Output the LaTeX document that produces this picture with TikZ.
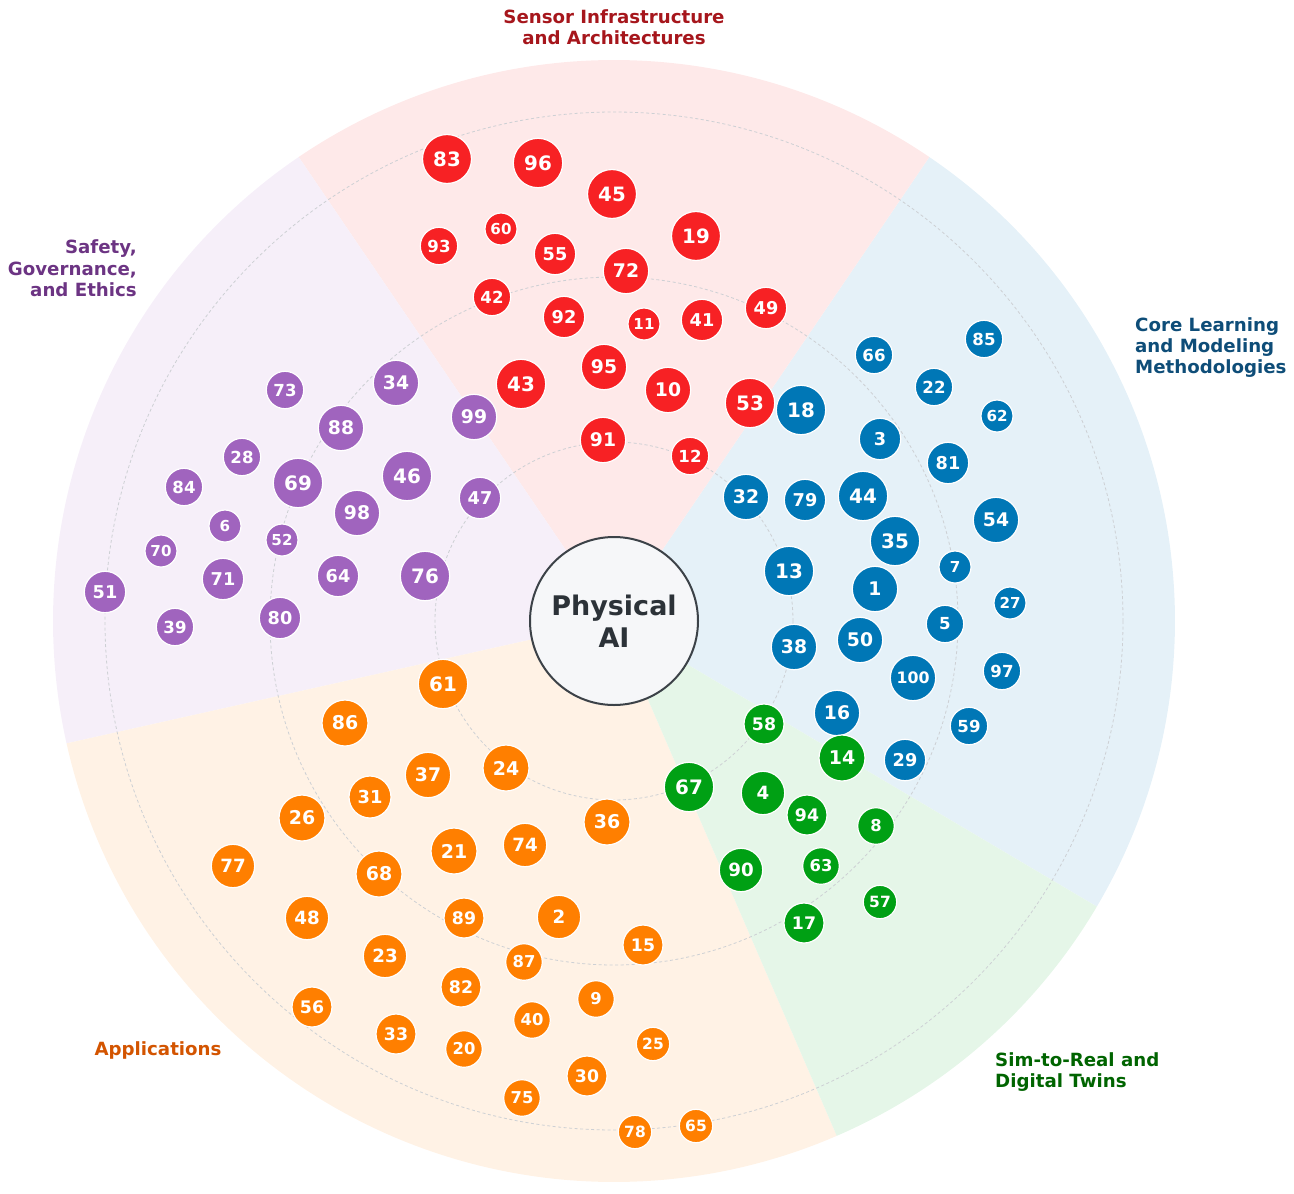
\documentclass[tikz,border=0pt]{standalone}
\usepackage{fontspec}
\setmainfont{DejaVu Sans}
\definecolor{cred}{RGB}{247,33,36}
\definecolor{cblue}{RGB}{0,119,182}
\definecolor{cgreen}{RGB}{0,160,20}
\definecolor{corange}{RGB}{255,127,0}
\definecolor{cpurple}{RGB}{160,100,190}
\definecolor{lred}{RGB}{166,22,28}
\definecolor{lblue}{RGB}{14,77,120}
\definecolor{lgreen}{RGB}{0,100,0}
\definecolor{lorange}{RGB}{211,84,0}
\definecolor{lpurple}{RGB}{108,52,131}
\definecolor{coredraw}{RGB}{60,66,72}
\definecolor{corefill}{RGB}{246,247,249}
\definecolor{coretext}{RGB}{44,50,56}
\definecolor{ringcol}{RGB}{205,208,212}
\tikzset{
  bub/.style={circle, draw=white, line width=1.2pt, inner sep=0pt, text=white},
  ring/.style={draw=ringcol, line width=0.8pt, dash pattern=on 3pt off 2.5pt},
  catlabel/.style={font=\bfseries\fontsize{18.2}{21.4}\selectfont, inner sep=0pt},
}
\newcommand{\sector}[3]{%
  \fill[#1!10!white] (614,621) -- plot[domain=#2:#3, samples=90] ({614+561*cos(\x)}, {621-561*sin(\x)}) -- cycle;}
\newcommand{\bubbles}[2]{%
  \foreach \n/\x/\y/\r in {#2}{%
    \pgfmathsetmacro\fs{0.55*\r+6.3}%
    \pgfmathsetmacro\dd{2*\r}%
    \node[bub, fill=#1, minimum size=\dd pt, font=\bfseries\fontsize{\fs}{\fs}\selectfont] (n\n) at (\x,\y) {\n};
  }}
\begin{document}
\begin{tikzpicture}[x=1pt,y=-1pt]
\useasboundingbox (0,0) rectangle (1294,1194);
\coordinate (C) at (614,621);
% sectors
\sector{cblue}{-30.6}{55.8}
\sector{cred}{55.8}{124.2}
\sector{cpurple}{124.2}{192.6}
\sector{corange}{192.6}{293.4}
\sector{cgreen}{293.4}{329.4}
% rings
\draw[ring] (C) circle[radius=179pt];
\draw[ring] (C) circle[radius=344pt];
\draw[ring] (C) circle[radius=509pt];
% core
\node[circle, draw=coredraw, line width=2pt, fill=corefill, minimum size=168pt, inner sep=0pt,
      font=\bfseries\fontsize{27}{31.7}\selectfont, text=coretext, align=center] (core) at (C) {Physical\\AI};
% red
\bubbles{cred}{83/447/159/24.5, 96/538/163/24.7, 45/612/194/24.5, 19/696/236/24.5, 93/439/246/18.7,
 60/501/229/16, 55/555/254/20.7, 72/626/271/22.7, 42/492/297/18.7, 92/564/317/20.7, 11/644/324/16,
 41/702/320/20.7, 49/766/308/20.7, 43/521/384/24.7, 95/604/367/22.7, 10/668/390/22.7, 53/750/403/24.7,
 91/603/440/22.7, 12/690/456/18.7}
% blue
\bubbles{cblue}{66/874/355/18.7, 85/984/339/18.7, 22/934/387/18.7, 62/997/416/16, 18/801/410/24.7,
 3/880/439/20.7, 81/948/463/20.7, 32/746/497/22.7, 79/805/500/20.7, 44/863/496/24.7, 54/996/520/22.7,
 35/895/541/24.7, 7/955/567/16, 13/789/571/24.7, 1/875/589/22.7, 27/1010/603/16, 5/945/624/18.7,
 38/794/647/22.7, 50/860/640/22.7, 97/1002/671/18.7, 16/837/713/22.7, 59/969/726/18.7, 29/905/760/20.7}
\node[bub, fill=cblue, minimum size=45.4pt, font=\bfseries\fontsize{15.8}{15.8}\selectfont] (n100) at (913,678) {100};
% green
\bubbles{cgreen}{58/764/724/20, 14/842/758/23, 67/689/787/24.7, 4/763/793/21.7, 94/807/815/20,
 8/876/826/18.3, 90/741/870/21.7, 63/821/866/18.3, 57/880/902/16.7, 17/804/923/20}
% purple
\bubbles{cpurple}{73/285/390/18.7, 34/396/383/22.7, 88/341/428/22.7, 28/242/457/18.7, 69/298/483/24.7,
 46/407/476/24.7, 84/184/487/18.7, 6/225/526/16, 98/357/513/22.7, 47/480/498/20.7, 70/161/551/16,
 52/282/540/16, 71/223/579/20.7, 64/338/576/20.7, 76/425/576/24.7, 51/105/592/20.7, 39/175/627/18.7,
 80/280/618/20.7, 99/474/417/22.7}
% orange
\bubbles{corange}{61/443/684/24.7, 86/345/723/23, 37/428/775/22.7, 24/506/768/23, 31/370/797/21,
 26/302/818/23, 36/607/822/23, 21/454/851/23, 74/525/845/21.7, 77/233/866/21.7, 68/379/874/23,
 48/307/918/21.7, 89/464/918/20, 2/559/917/21.7, 15/643/945/20, 23/385/956/21.7, 87/524/962/18.3,
 82/461/987/20, 56/312/1007/20, 9/596/999/18.3, 40/532/1020/18.3, 33/396/1034/20, 20/464/1049/18.3,
 25/653/1044/16.7, 30/587/1076/20, 75/522/1098/18.3, 78/635/1132/16.7, 65/696/1126/16.7}
% category labels
\node[catlabel, text=lred, align=center] (labred) at (614,27.5) {Sensor Infrastructure\\and Architectures};
\node[catlabel, text=lpurple, align=right, anchor=east] (labpurple) at (137,268.5) {Safety,\\Governance,\\and Ethics};
\node[catlabel, text=lblue, align=left, anchor=west] (labblue) at (1135,347.5) {Core Learning\\and Modeling\\Methodologies};
\node[catlabel, text=lgreen, align=left, anchor=west] (labgreen) at (995,1072) {Sim-to-Real and\\Digital Twins};
\node[catlabel, text=lorange] (laborange) at (158,1050) {Applications};
\end{tikzpicture}
\end{document}
